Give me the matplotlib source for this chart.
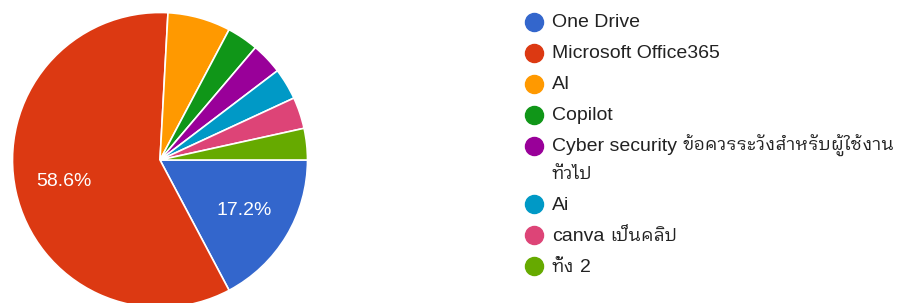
import re
import matplotlib
matplotlib.use("Agg")
import matplotlib.pyplot as plt
from matplotlib import font_manager
from matplotlib.ft2font import FT2Font

labels = ["One Drive", "Microsoft Office365", "AI", "Copilot",
          "Cyber security ข้อควรระวังสำหรับผู้ใช้งาน\nทั่วไป",
          "Ai", "canva เป็นคลิป", "ทั้ง 2"]
counts = [5, 17, 2, 1, 1, 1, 1, 1]
colors = ["#3366cc", "#dc3912", "#ff9900", "#109618",
          "#990099", "#0099c6", "#dd4477", "#66aa00"]


def thai_font():
    # pick a regular Thai face that draws the tone marks properly
    wanted = ["IBMPlexSansThaiLooped-Regular", "IBMPlexSansThaiLooped-Text",
              "IBMPlexSansThaiLooped-Medium", "IBMPlexSansThai-Regular",
              "NotoSansThai-Regular", "Sarabun-Regular", "Kanit-Regular"]
    paths = {}
    for path in font_manager.findSystemFonts():
        stem = path.split("/")[-1].rsplit(".", 1)[0]
        paths[stem] = path
    for w in wanted:
        if w in paths:
            try:
                if 0x0E01 in FT2Font(paths[w]).get_charmap():
                    font_manager.fontManager.addfont(paths[w])
                    return [font_manager.FontProperties(fname=paths[w]).get_name()]
            except Exception:
                pass
    return []


plt.rcParams["font.family"] = ["Liberation Sans"] + thai_font() + ["DejaVu Sans"]

fig = plt.figure(figsize=(9, 3.03), dpi=100)
W, H = 900, 303
cx, cy, r = 160, 160, 147.5
ax = fig.add_axes([(cx - r) / W, (H - cy - r) / H, 2 * r / W, 2 * r / H])


def pct(p):
    return f"{p:.1f}%" if p > 10 else ""


ax.pie(counts, colors=colors, startangle=0, counterclock=False,
       autopct=pct, pctdistance=0.67,
       wedgeprops=dict(edgecolor="white", linewidth=1.2),
       textprops=dict(color="white", fontsize=14))
ax.set_xlim(-1, 1)
ax.set_ylim(-1, 1)
ax.set_aspect("equal")

# legend, laid out in pixel coordinates
lax = fig.add_axes([0, 0, 1, 1])
lax.set_xlim(0, W)
lax.set_ylim(H, 0)
lax.axis("off")
renderer = fig.canvas.get_renderer()
SPACE = 5.4


def draw_line(x, base, line):
    # thai runs a little smaller so the long label fits like the original
    for run in re.findall(r"[\u0E00-\u0E7F]+|[^\u0E00-\u0E7F]+", line):
        thai = bool(re.match(r"[\u0E00-\u0E7F]", run))
        lead = len(run) - len(run.lstrip(" "))
        trail = len(run) - len(run.rstrip(" "))
        x += lead * SPACE
        t = lax.text(x, base, run.strip(" "), fontsize=13 if thai else 14,
                     color="#222222", va="baseline", ha="left")
        x = t.get_window_extent(renderer).x1 + trail * SPACE


y = 21.5
for lab, c in zip(labels, colors):
    lax.scatter([534], [y], s=13 ** 2, color=c, zorder=3)
    lines = lab.split("\n")
    for j, line in enumerate(lines):
        draw_line(552, y + 5.8, line)
        if j < len(lines) - 1:
            y += 27.5
    y += 31

fig.savefig("out.png", dpi=100)
